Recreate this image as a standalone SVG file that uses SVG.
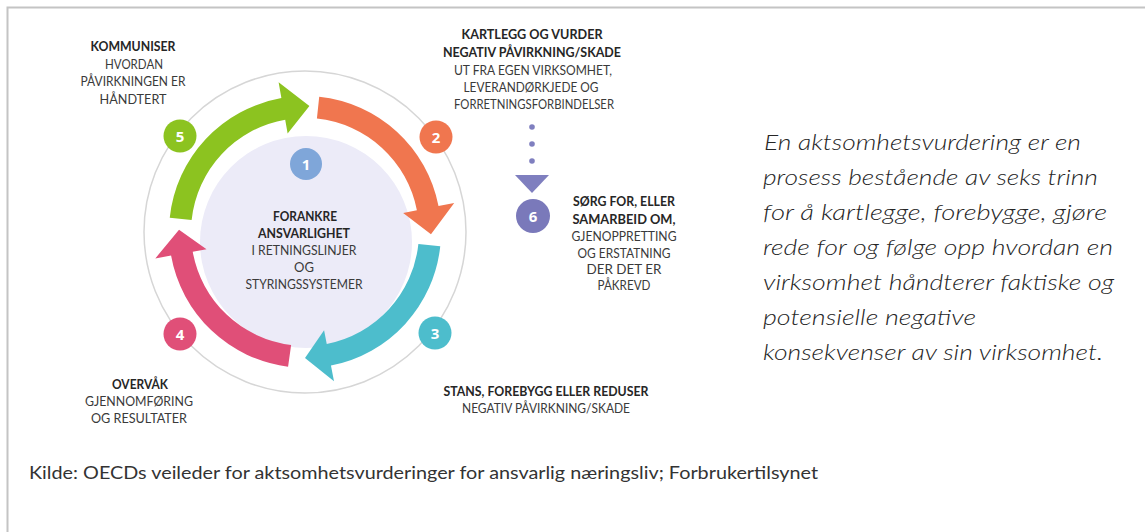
<svg xmlns="http://www.w3.org/2000/svg" width="1145" height="532" viewBox="0 0 1145 532">
<style>
.lb{font-family:Lato,"Open Sans",sans-serif;font-size:13px;fill:#3a3a3a;text-anchor:middle}
.b{font-weight:bold;fill:#262626}
.num{font-family:"Open Sans",Lato,sans-serif;font-size:15px;font-weight:bold;fill:#fff;text-anchor:middle}
.it{font-family:Lato,"Open Sans",sans-serif;font-style:italic;font-weight:300;font-size:21.5px;fill:#262626}
.cap{font-family:Lato,"Open Sans",sans-serif;font-size:17px;fill:#333}
</style>
<rect width="1145" height="532" fill="#fff"/>
<path d="M7.5 532 V7.5 H1145" fill="none" stroke="#c4c4c4" stroke-width="2"/>

<g id="ring">
  <circle cx="305" cy="232" r="161" fill="none" stroke="#d6d6d6" stroke-width="1.5"/>
</g>

<g id="step1">
  <circle cx="306" cy="242" r="106" fill="#ecebf8"/>
  <circle cx="306" cy="164" r="16" fill="#7fa6d9"/>
  <text class="num" x="306" y="169.5">1</text>
  <text class="lb b" x="305" y="221" textLength="64" lengthAdjust="spacingAndGlyphs">FORANKRE</text>
  <text class="lb b" x="304" y="238" textLength="92" lengthAdjust="spacingAndGlyphs">ANSVARLIGHET</text>
  <text class="lb" x="304" y="255" textLength="105" lengthAdjust="spacingAndGlyphs">I RETNINGSLINJER</text>
  <text class="lb" x="304" y="272">OG</text>
  <text class="lb" x="304" y="289" textLength="117" lengthAdjust="spacingAndGlyphs">STYRINGSSYSTEMER</text>
</g>

<g id="connectors">
  <path d="M169.75 217.79 A136 136 0 0 1 281.38 98.07 L278.61 82.31 L309.4 106.08 L287.63 133.52 L285.2 119.73 A114 114 0 0 0 191.63 220.09 Z" fill="#8cc320"/>
  <path d="M319.22 96.75 A136 136 0 0 1 438.5 206.05 L454.21 203 L430.98 234.2 L403.16 212.92 L416.91 210.25 A114 114 0 0 0 316.92 118.62 Z" fill="#f0764f"/>
  <path d="M440.25 246.22 A136 136 0 0 1 330.95 365.5 L334 381.21 L305 358 L324.08 330.16 L326.75 343.91 A114 114 0 0 0 418.38 243.92 Z" fill="#4dbdcc"/>
  <path d="M288.07 366.68 A136 136 0 0 1 171.07 255.62 L155.31 258.39 L179.02 229.8 L206.52 249.37 L192.73 251.8 A114 114 0 0 0 291.13 344.89 Z" fill="#e04f78"/>
  <g fill="#7f7fbf">
    <circle cx="532" cy="127" r="2.8"/>
    <circle cx="532" cy="144" r="2.8"/>
    <circle cx="532" cy="161" r="2.8"/>
    <path d="M515 175 H549 L532 193 Z"/>
  </g>
</g>

<g id="step2">
  <circle cx="436" cy="137" r="16.5" fill="#f0764f"/>
  <text class="num" x="436" y="142.5">2</text>
  <text class="lb b" x="532" y="39" textLength="141" lengthAdjust="spacingAndGlyphs">KARTLEGG OG VURDER</text>
  <text class="lb b" x="532" y="57" textLength="178" lengthAdjust="spacingAndGlyphs">NEGATIV PÅVIRKNING/SKADE</text>
  <text class="lb" x="533" y="75" textLength="158" lengthAdjust="spacingAndGlyphs">UT FRA EGEN VIRKSOMHET,</text>
  <text class="lb" x="531" y="92" textLength="135" lengthAdjust="spacingAndGlyphs">LEVERANDØRKJEDE OG</text>
  <text class="lb" x="534" y="109" textLength="160" lengthAdjust="spacingAndGlyphs">FORRETNINGSFORBINDELSER</text>
</g>

<g id="step3">
  <circle cx="435" cy="333" r="16.5" fill="#4dbdcc"/>
  <text class="num" x="435" y="338.5">3</text>
  <text class="lb b" x="546" y="396" textLength="205" lengthAdjust="spacingAndGlyphs">STANS, FOREBYGG ELLER REDUSER</text>
  <text class="lb" x="546" y="413" textLength="168" lengthAdjust="spacingAndGlyphs">NEGATIV PÅVIRKNING/SKADE</text>
</g>

<g id="step4">
  <circle cx="180" cy="334" r="16.5" fill="#e04f78"/>
  <text class="num" x="180" y="339.5">4</text>
  <text class="lb b" x="140" y="389" textLength="56" lengthAdjust="spacingAndGlyphs">OVERVÅK</text>
  <text class="lb" x="139" y="406" textLength="108" lengthAdjust="spacingAndGlyphs">GJENNOMFØRING</text>
  <text class="lb" x="139" y="423" textLength="96" lengthAdjust="spacingAndGlyphs">OG RESULTATER</text>
</g>

<g id="step5">
  <circle cx="180" cy="136" r="16.5" fill="#8cc320"/>
  <text class="num" x="180" y="141.5">5</text>
  <text class="lb b" x="133" y="51" textLength="85" lengthAdjust="spacingAndGlyphs">KOMMUNISER</text>
  <text class="lb" x="134" y="69" textLength="58" lengthAdjust="spacingAndGlyphs">HVORDAN</text>
  <text class="lb" x="133" y="86" textLength="105" lengthAdjust="spacingAndGlyphs">PÅVIRKNINGEN ER</text>
  <text class="lb" x="133" y="104" textLength="67" lengthAdjust="spacingAndGlyphs">HÅNDTERT</text>
</g>

<g id="step6">
  <circle cx="533" cy="216" r="17" fill="#7a79ba"/>
  <text class="num" x="533" y="221.5">6</text>
  <text class="lb b" x="624" y="206" textLength="102" lengthAdjust="spacingAndGlyphs">SØRG FOR, ELLER</text>
  <text class="lb b" x="624" y="224" textLength="103" lengthAdjust="spacingAndGlyphs">SAMARBEID OM,</text>
  <text class="lb" x="624" y="241" textLength="105" lengthAdjust="spacingAndGlyphs">GJENOPPRETTING</text>
  <text class="lb" x="624" y="258" textLength="93" lengthAdjust="spacingAndGlyphs">OG ERSTATNING</text>
  <text class="lb" x="624" y="274" textLength="75" lengthAdjust="spacingAndGlyphs">DER DET ER</text>
  <text class="lb" x="624" y="290" textLength="53" lengthAdjust="spacingAndGlyphs">PÅKREVD</text>
</g>

<g id="description">
  <text class="it" x="764" y="150" textLength="317" lengthAdjust="spacingAndGlyphs">En aktsomhetsvurdering er en</text>
  <text class="it" x="763" y="185" textLength="335" lengthAdjust="spacingAndGlyphs">prosess bestående av seks trinn</text>
  <text class="it" x="763" y="220" textLength="344" lengthAdjust="spacingAndGlyphs">for å kartlegge, forebygge, gjøre</text>
  <text class="it" x="763" y="255" textLength="350" lengthAdjust="spacingAndGlyphs">rede for og følge opp hvordan en</text>
  <text class="it" x="763" y="290" textLength="351" lengthAdjust="spacingAndGlyphs">virksomhet håndterer faktiske og</text>
  <text class="it" x="763" y="325" textLength="213" lengthAdjust="spacingAndGlyphs">potensielle negative</text>
  <text class="it" x="763" y="360" textLength="340" lengthAdjust="spacingAndGlyphs">konsekvenser av sin virksomhet.</text>
</g>

<g id="caption">
  <text class="cap" x="29" y="479" textLength="789" lengthAdjust="spacingAndGlyphs">Kilde: OECDs veileder for aktsomhetsvurderinger for ansvarlig næringsliv; Forbrukertilsynet</text>
</g>
</svg>
